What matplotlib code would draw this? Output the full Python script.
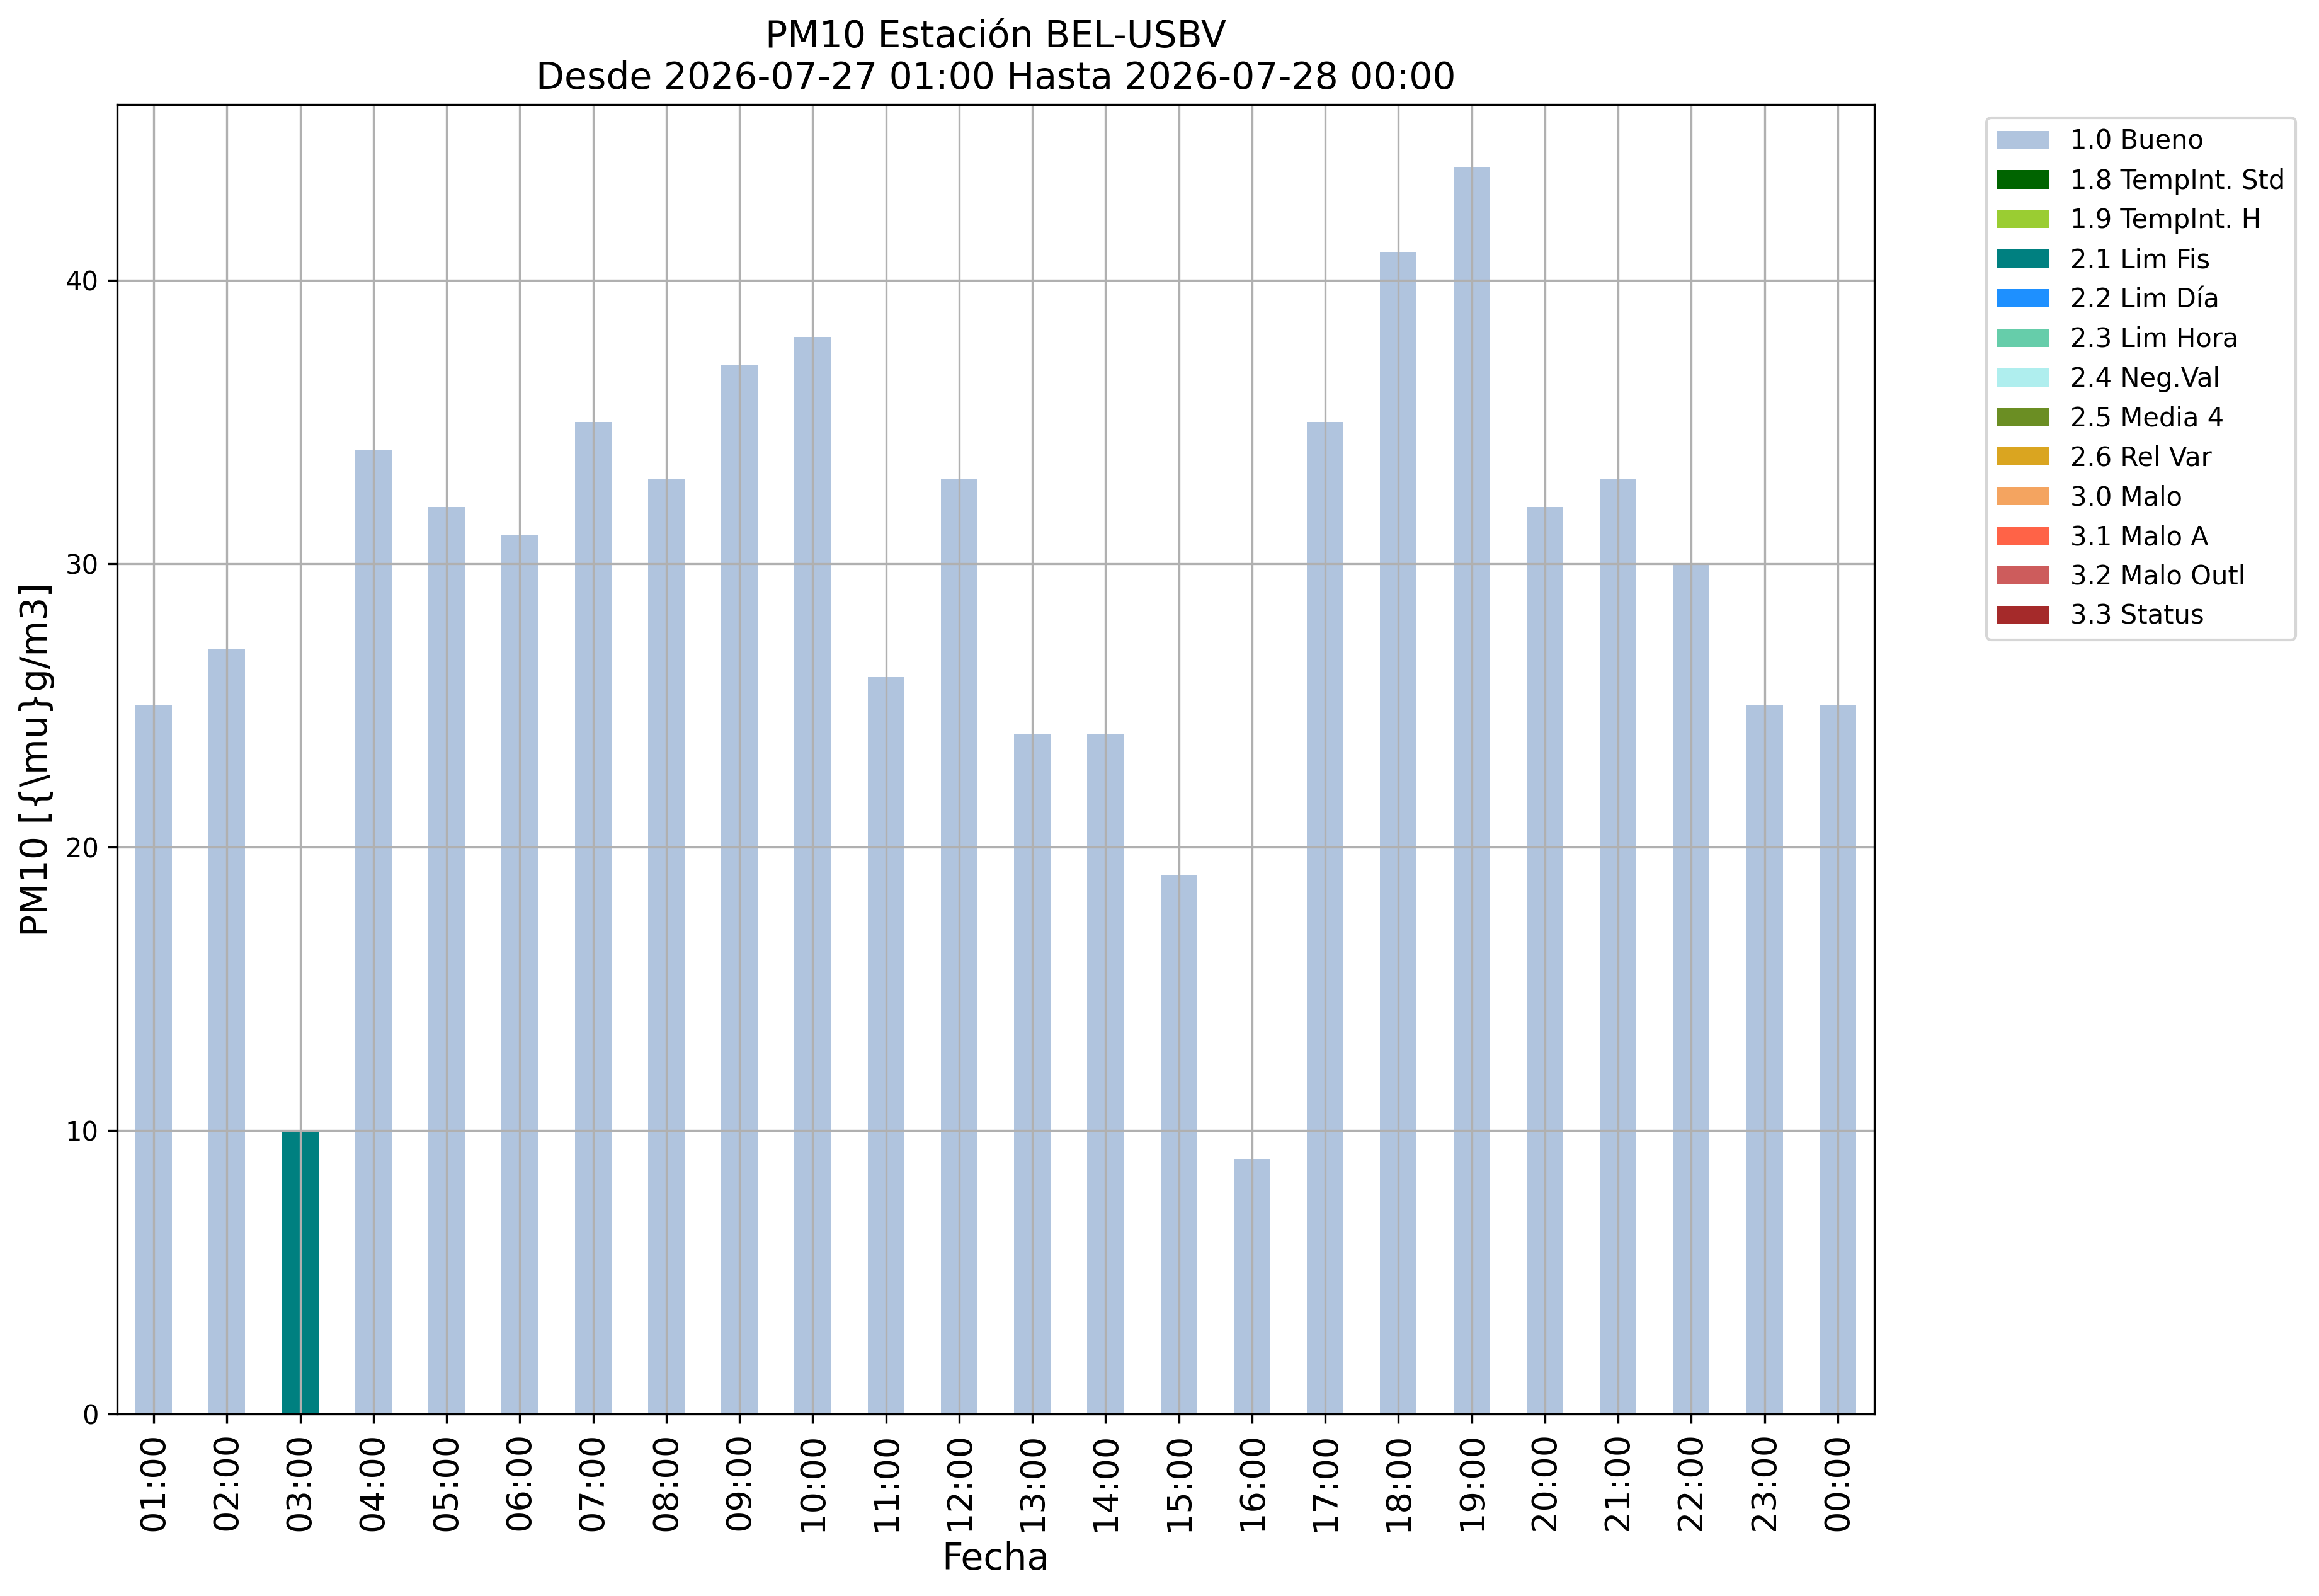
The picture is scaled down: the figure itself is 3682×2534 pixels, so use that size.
import numpy as np
import matplotlib
matplotlib.use("Agg")
import matplotlib.pyplot as plt

horas = ["01:00", "02:00", "03:00", "04:00", "05:00", "06:00", "07:00", "08:00",
         "09:00", "10:00", "11:00", "12:00", "13:00", "14:00", "15:00", "16:00",
         "17:00", "18:00", "19:00", "20:00", "21:00", "22:00", "23:00", "00:00"]

# valor PM10 por hora y su bandera de calidad
pm10 = [25, 27, 10, 34, 32, 31, 35, 33, 37, 38, 26, 33,
        24, 24, 19, 9, 35, 41, 44, 32, 33, 30, 25, 25]
bandera = ["1.0 Bueno", "1.0 Bueno", "2.1 Lim Fis"] + ["1.0 Bueno"] * 21

categorias = ["1.0 Bueno", "1.8 TempInt. Std", "1.9 TempInt. H", "2.1 Lim Fis",
              "2.2 Lim Día", "2.3 Lim Hora", "2.4 Neg.Val", "2.5 Media 4",
              "2.6 Rel Var", "3.0 Malo", "3.1 Malo A", "3.2 Malo Outl", "3.3 Status"]
colores = ["lightsteelblue", "darkgreen", "yellowgreen", "teal", "dodgerblue",
           "mediumaquamarine", "paleturquoise", "olivedrab", "goldenrod",
           "sandybrown", "tomato", "indianred", "brown"]

fig = plt.figure(figsize=(3682 / 300, 2534 / 300), dpi=300)
ax = fig.add_axes([186 / 3682, 1 - 2245 / 2534, (2976 - 186) / 3682, (2245 - 166) / 2534])

x = np.arange(len(horas))
base = np.zeros(len(horas))
for cat, col in zip(categorias, colores):
    vals = np.array([v if b == cat else 0 for v, b in zip(pm10, bandera)], dtype=float)
    ax.bar(x, vals, width=0.5, bottom=base, color=col, label=cat)
    base += vals

ax.set_xlim(-0.5, len(horas) - 0.5)
ax.set_ylim(0, max(pm10) * 1.05)
ax.set_yticks([0, 10, 20, 30, 40])
ax.set_xticks(x)
ax.set_xticklabels(horas, rotation=90, fontsize=13)
ax.tick_params(axis="y", labelsize=10)
ax.grid(True)

ax.set_title("PM10 Estación BEL-USBV\nDesde 2026-07-27 01:00 Hasta 2026-07-28 00:00", fontsize=14)
ax.set_xlabel("Fecha", fontsize=14)
ax.set_ylabel("PM10 [{\\mu}g/m3]", fontsize=14)

fig.legend(loc="upper left", bbox_to_anchor=(3154 / 3682, 1 - 187 / 2534),
           borderaxespad=0, fontsize=10)

fig.savefig("out.png", dpi=300)
